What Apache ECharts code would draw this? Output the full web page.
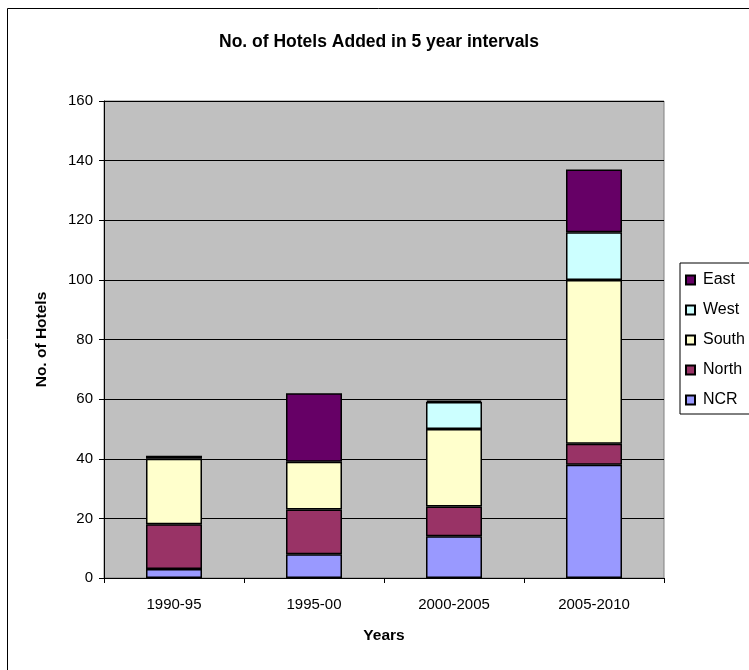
<!DOCTYPE html>
<html>
<head>
<meta charset="utf-8">
<script src="https://cdn.jsdelivr.net/npm/echarts@6/dist/echarts.min.js"></script>
<style>
html,body{margin:0;padding:0;background:#fff;}
#c{width:749px;height:670px;}
</style>
</head>
<body>
<div id="c"></div>
<script>
const categories = ['1990-95', '1995-00', '2000-2005', '2005-2010'];
const NCR   = [3, 8, 14, 38];
const North = [15, 15, 10, 7];
const South = [22, 16, 26, 55];
const West  = [1, 0, 9, 16];
const East  = [0, 23, 0.5, 21];
const yTicks = { min: 0, max: 160, interval: 20 };

const colors = { NCR: '#9999FF', North: '#993366', South: '#FFFFCC', West: '#CCFFFF', East: '#660066' };
const seriesDefs = [['NCR', NCR], ['North', North], ['South', South], ['West', West], ['East', East]];
const font = 'Liberation Sans, Arial, sans-serif';

const chart = echarts.init(document.getElementById('c'));
chart.setOption({
  backgroundColor: '#ffffff',
  animation: false,
  graphic: [{
    type: 'rect', left: 5, top: 6, shape: { width: 800, height: 700 },
    style: { fill: 'none', stroke: '#000', lineWidth: 1 }, silent: true, z: 100
  }],
  title: {
    text: 'No. of Hotels Added in 5 year intervals',
    left: 374, top: 28, textAlign: 'center',
    textStyle: { fontFamily: font, fontSize: 17.5, fontWeight: 'bold', color: '#000' }
  },
  legend: {
    orient: 'vertical', left: 680, top: 263,
    data: ['East', 'West', 'South', 'North', 'NCR'],
    icon: 'rect',
    itemWidth: 9, itemHeight: 9, itemGap: 14,
    padding: [9, 40, 6, 5],
    borderColor: '#000', borderWidth: 1, backgroundColor: '#fff',
    textStyle: { fontFamily: font, fontSize: 16, color: '#000', padding: [0, 0, 0, 3] }
  },
  grid: {
    left: 104, top: 101, width: 560, height: 477,
    show: true, backgroundColor: '#C0C0C0', borderColor: '#808080', borderWidth: 1
  },
  xAxis: {
    type: 'category', data: categories,
    name: 'Years', nameLocation: 'middle', nameGap: 50,
    nameTextStyle: { fontFamily: font, fontSize: 15.5, fontWeight: 'bold', color: '#000' },
    axisLine: { lineStyle: { color: '#000', width: 1 } },
    axisTick: { show: true, length: 5, lineStyle: { color: '#000' } },
    axisLabel: { fontFamily: font, fontSize: 15, color: '#000', margin: 19 },
    splitLine: { show: false }
  },
  yAxis: {
    type: 'value', min: yTicks.min, max: yTicks.max, interval: yTicks.interval,
    name: 'No. of Hotels', nameLocation: 'middle', nameGap: 54, nameRotate: 90,
    nameTextStyle: { fontFamily: font, fontSize: 15.5, fontWeight: 'bold', color: '#000' },
    axisLine: { show: true, lineStyle: { color: '#000', width: 1 } },
    axisTick: { show: true, length: 5, lineStyle: { color: '#000' } },
    axisLabel: { fontFamily: font, fontSize: 15, color: '#000', margin: 11 },
    splitLine: { show: true, lineStyle: { color: '#000', width: 1 } }
  },
  series: seriesDefs.map(([name, data]) => ({
    name, type: 'bar', stack: 'total',
    data: data.map(v => (v === 0 ? '-' : v)),
    barWidth: '40%',
    itemStyle: { color: colors[name], borderColor: '#000', borderWidth: 1.5 },
    emphasis: { disabled: true }
  }))
});
</script>
</body>
</html>
